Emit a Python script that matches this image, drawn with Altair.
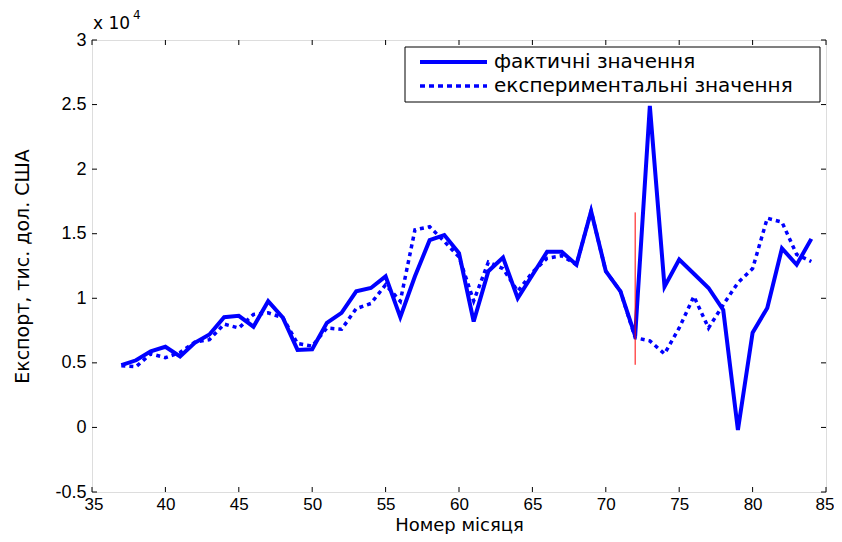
import altair as alt
import pandas as pd

# ---------------- data (thousand USD) ----------------
months = list(range(37, 85))
actual = [4820, 5200, 5900, 6250, 5500, 6550, 7200, 8540, 8640, 7800,
          9770, 8500, 6000, 6050, 8100, 8870, 10540, 10800, 11700, 8540,
          11700, 14500, 14900, 13500, 8200, 12100, 13150, 10000, 11800, 13600,
          13600, 12600, 16750, 12100, 10540, 7080, 24900, 10900, 13000, 11900,
          10800, 9100, -200, 7330, 9250, 13870, 12600, 14600]
experimental = [4770, 4700, 5700, 5400, 5800, 6600, 6800, 8000, 7700, 8750,
                8870, 8500, 6500, 6300, 7700, 7600, 9200, 9600, 11050, 9770,
                15300, 15540, 14400, 13200, 9800, 12800, 12300, 10540, 12000, 13100,
                13300, 12600, 16750, 12100, 10540, 6950, 6700, 5700, 7700, 10150,
                7700, 9500, 11200, 12300, 16200, 15900, 13400, 12850]
split_month = [72]
split_low = [4850]
split_high = [16650]

legend_labels = ["фактичні значення", "експериментальні значення"]
x_title = "Номер місяця"
y_title = "Експорт, тис. дол. США"
x_ticks = list(range(35, 90, 5))
y_ticks = list(range(-5000, 30001, 5000))

W, H = 734, 452
FONT = "Liberation Sans"
WIDE = "DejaVu Sans"
BLUE = "#0000ff"

df = pd.DataFrame({"month": months, "actual": actual, "experimental": experimental})
xs = alt.Scale(domain=[35, 85], nice=False, zero=False)
ys = alt.Scale(domain=[-5000, 30000], nice=False, zero=False)

x_axis = alt.Axis(values=x_ticks, title=x_title, ticks=False, domain=False, grid=False,
                  labelFontSize=17, labelPadding=4, labelColor="black", labelFont=FONT,
                  labelFlush=True, labelFlushOffset=8,
                  titleFontSize=18, titleFont=WIDE, titleFontWeight="normal", titleColor="black",
                  titleX=W / 2, titleY=42, titleBaseline="bottom")
y_axis = alt.Axis(values=y_ticks, title=y_title, ticks=False, domain=False, grid=False,
                  labelExpr="'' + datum.value / 10000",
                  labelFontSize=18, labelPadding=6, labelColor="black", labelFont=FONT,
                  titleFontSize=19, titleFont=WIDE, titleFontWeight="normal", titleColor="black",
                  titleX=-70, titleY=H / 2, titleAngle=270, titleAlign="center",
                  titleBaseline="middle", labelFlush=False)

base = alt.Chart(df)
dotted = base.mark_line(color=BLUE, strokeWidth=3.5, strokeDash=[4, 4]).encode(
    x=alt.X("month:Q", scale=xs, axis=x_axis),
    y=alt.Y("experimental:Q", scale=ys, axis=y_axis),
)
solid = base.mark_line(color=BLUE, strokeWidth=4).encode(
    x=alt.X("month:Q", scale=xs),
    y=alt.Y("actual:Q", scale=ys),
)

split_df = pd.DataFrame({"month": split_month, "lo": split_low, "hi": split_high})
split = alt.Chart(split_df).mark_rule(color="#ff0000", strokeWidth=1).encode(
    x=alt.X("month:Q", scale=xs), y=alt.Y("lo:Q", scale=ys), y2="hi:Q"
)

# inward ticks on all four sides
xt = pd.DataFrame({"month": x_ticks})
yt = pd.DataFrame({"actual": y_ticks})
tick_style = dict(color="black", strokeWidth=1)
tb = alt.Chart(xt).mark_rule(**tick_style).encode(
    x=alt.X("month:Q", scale=xs), y=alt.value(H), y2=alt.value(H - 5))
tt = alt.Chart(xt).mark_rule(**tick_style).encode(
    x=alt.X("month:Q", scale=xs), y=alt.value(0), y2=alt.value(5))
tl = alt.Chart(yt).mark_rule(**tick_style).encode(
    y=alt.Y("actual:Q", scale=ys), x=alt.value(0), x2=alt.value(5))
tr = alt.Chart(yt).mark_rule(**tick_style).encode(
    y=alt.Y("actual:Q", scale=ys), x=alt.value(W), x2=alt.value(W - 5))

# legend (manual, MATLAB style)
one = pd.DataFrame({"k": [0]})
leg_box = alt.Chart(one).mark_rect(fill="white", stroke="black", strokeWidth=1).encode(
    x=alt.value(313), x2=alt.value(728), y=alt.value(7), y2=alt.value(62))
leg_l1 = alt.Chart(one).mark_rule(color=BLUE, strokeWidth=4).encode(
    x=alt.value(328), x2=alt.value(395), y=alt.value(22))
leg_l2 = alt.Chart(one).mark_rule(color=BLUE, strokeWidth=3.5, strokeDash=[5, 4]).encode(
    x=alt.value(328), x2=alt.value(395), y=alt.value(46))
leg_t1 = alt.Chart(one).mark_text(text=legend_labels[0], align="left", baseline="middle",
                                  font=WIDE, fontSize=20, color="black").encode(
    x=alt.value(402), y=alt.value(22))
leg_t2 = alt.Chart(one).mark_text(text=legend_labels[1], align="left", baseline="middle",
                                  font=WIDE, fontSize=20, color="black").encode(
    x=alt.value(402), y=alt.value(46))

# exponent label
exp1 = alt.Chart(one).mark_text(text="x 10", align="left", baseline="middle",
                                font=WIDE, fontSize=17, color="black").encode(
    x=alt.value(1), y=alt.value(-16))
exp2 = alt.Chart(one).mark_text(text="4", align="left", baseline="middle",
                                font=WIDE, fontSize=12, color="black").encode(
    x=alt.value(41), y=alt.value(-25))

chart = alt.layer(
    dotted, solid, split, tb, tt, tl, tr,
    leg_box, leg_l1, leg_l2, leg_t1, leg_t2, exp1, exp2
).properties(
    width=W, height=H,
    autosize=alt.AutoSizeParams(type="none"),
    padding={"left": 84, "top": 32, "right": 8, "bottom": 42},
).configure_view(
    stroke="black", strokeWidth=1
).configure(background="white")

chart.save("out.html", embed_options={"renderer": "svg", "actions": False})
